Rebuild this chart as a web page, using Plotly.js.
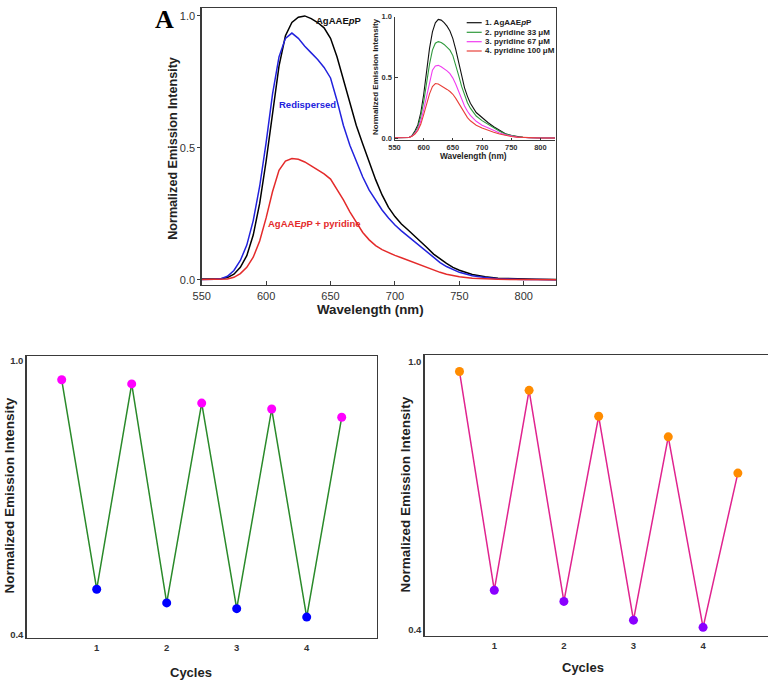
<!DOCTYPE html>
<html>
<head>
<meta charset="utf-8">
<script src="https://cdn.plot.ly/plotly-3.0.1.min.js"></script>
<style>html,body{margin:0;padding:0;overflow:hidden;background:#fff}#chart{width:768px;height:686px}</style>
</head>
<body>
<div id="chart"></div>
<script>
// ---------- Data ----------
const wavelengthMain = [550,555,560,565,570,575,580,585,590,595,600,605,610,615,620,625,630,635,640,645,650,655,660,665,670,675,680,685,690,695,700,705,710,715,720,725,730,735,740,745,750,760,770,780,790,800,810,825];
const mainAgAAEpP = [0.004,0.004,0.004,0.005,0.009,0.022,0.048,0.092,0.17,0.29,0.45,0.64,0.81,0.925,0.975,0.995,1.0,0.99,0.975,0.955,0.915,0.845,0.76,0.665,0.585,0.515,0.445,0.38,0.322,0.275,0.24,0.212,0.19,0.168,0.147,0.122,0.098,0.08,0.063,0.048,0.037,0.021,0.012,0.007,0.005,0.004,0.003,0.002];
const mainRedispersed = [0.002,0.002,0.003,0.005,0.014,0.036,0.074,0.132,0.225,0.355,0.52,0.705,0.845,0.915,0.935,0.915,0.885,0.86,0.835,0.805,0.765,0.68,0.585,0.51,0.45,0.39,0.34,0.30,0.265,0.235,0.208,0.186,0.166,0.146,0.126,0.104,0.083,0.066,0.051,0.039,0.029,0.016,0.009,0.005,0.003,0.002,0.002,0.001];
const mainPyridine = [0.002,0.002,0.002,0.002,0.004,0.01,0.024,0.048,0.086,0.148,0.235,0.335,0.415,0.45,0.46,0.457,0.447,0.432,0.416,0.402,0.382,0.345,0.303,0.258,0.218,0.18,0.152,0.13,0.115,0.103,0.093,0.084,0.075,0.066,0.057,0.047,0.037,0.029,0.022,0.016,0.012,0.007,0.004,0.003,0.002,0.002,0.001,0.001];

const wavelengthInset = [550,560,570,575,580,585,590,595,600,605,610,615,620,625,630,635,640,645,650,655,660,665,670,675,680,690,700,710,720,730,740,750,760,770,780,800,825];
const insetAgAAEpP = [0.004,0.004,0.005,0.006,0.022,0.06,0.11,0.21,0.36,0.56,0.74,0.875,0.95,0.978,0.972,0.952,0.922,0.882,0.82,0.73,0.625,0.515,0.415,0.345,0.288,0.212,0.168,0.13,0.095,0.063,0.038,0.023,0.014,0.008,0.005,0.003,0.002];
const insetPyr33 = [0.004,0.004,0.005,0.007,0.02,0.05,0.09,0.18,0.30,0.46,0.61,0.725,0.782,0.795,0.787,0.772,0.752,0.725,0.68,0.605,0.515,0.427,0.35,0.293,0.248,0.183,0.145,0.114,0.084,0.058,0.035,0.022,0.013,0.008,0.005,0.003,0.002];
const insetPyr67 = [0.004,0.004,0.005,0.007,0.018,0.04,0.074,0.14,0.235,0.35,0.47,0.56,0.595,0.60,0.588,0.572,0.555,0.532,0.495,0.445,0.385,0.325,0.265,0.222,0.188,0.14,0.108,0.086,0.064,0.044,0.028,0.017,0.01,0.006,0.004,0.003,0.002];
const insetPyr100 = [0.004,0.004,0.005,0.007,0.016,0.035,0.064,0.115,0.195,0.28,0.365,0.425,0.45,0.446,0.433,0.417,0.402,0.385,0.362,0.328,0.287,0.244,0.203,0.17,0.144,0.107,0.085,0.066,0.05,0.036,0.023,0.015,0.01,0.007,0.005,0.003,0.003];
const insetLabels = ['1. AgAAE<i>p</i>P','2. pyridine 33 \u03bcM','3. pyridine 67 \u03bcM','4. pyridine 100 \u03bcM'];

const cyclePos = [0.5,1,1.5,2,2.5,3,3.5,4,4.5];
const cyclesLeft = [0.958,0.50,0.949,0.47,0.907,0.4575,0.894,0.439,0.876];
const cyclesRight = [0.978,0.489,0.936,0.464,0.878,0.422,0.832,0.406,0.751];
const cycleTicks = [1,2,3,4];

const mainTicksX = [550,600,650,700,750,800];
const mainTicksY = [0,0.5,1.0];
const mainTickTextY = ['0.0','0.5','1.0'];
const cycleTicksY = [0.4,1.0];
const cycleTickTextY = ['0.4','1.0'];

// ---------- Layout helpers ----------
const W = 768, H = 686;
const fx = p => p / W;
const fy = p => 1 - p / H;
const SANS = 'Liberation Sans, Arial, Helvetica, sans-serif';

function ann(text, x, y, size, color, extra) {
  return Object.assign({
    text: text, xref: 'paper', yref: 'paper', x: fx(x), y: fy(y),
    showarrow: false, xanchor: 'center', yanchor: 'middle',
    font: {family: SANS, size: size, color: color, weight: 700}
  }, extra || {});
}

const insetColors = ['#111111','#2f9a3c','#f03cf0','#e8403a'];
const legendRows = [22.7,32.3,41.7,51];

const traces = [
  {x: wavelengthMain, y: mainAgAAEpP, xaxis:'x', yaxis:'y', mode:'lines', line:{color:'#000000', width:1.5}},
  {x: wavelengthMain, y: mainRedispersed, xaxis:'x', yaxis:'y', mode:'lines', line:{color:'#2222dd', width:1.5}},
  {x: wavelengthMain, y: mainPyridine, xaxis:'x', yaxis:'y', mode:'lines', line:{color:'#e42b2b', width:1.5}},
  {x: wavelengthInset, y: insetAgAAEpP, xaxis:'x2', yaxis:'y2', mode:'lines', line:{color:insetColors[0], width:1.1}},
  {x: wavelengthInset, y: insetPyr33, xaxis:'x2', yaxis:'y2', mode:'lines', line:{color:insetColors[1], width:1.1}},
  {x: wavelengthInset, y: insetPyr67, xaxis:'x2', yaxis:'y2', mode:'lines', line:{color:insetColors[2], width:1.1}},
  {x: wavelengthInset, y: insetPyr100, xaxis:'x2', yaxis:'y2', mode:'lines', line:{color:insetColors[3], width:1.1}},
  {x: cyclePos, y: cyclesLeft, xaxis:'x3', yaxis:'y3', mode:'lines+markers',
   line:{color:'#2a8a2a', width:1.5},
   marker:{size:9, color: cyclePos.map((v,i)=> i%2===0 ? '#ff00ff' : '#0000ff')}},
  {x: cyclePos, y: cyclesRight, xaxis:'x4', yaxis:'y4', mode:'lines+markers',
   line:{color:'#e0248f', width:1.5},
   marker:{size:9, color: cyclePos.map((v,i)=> i%2===0 ? '#ff8c00' : '#8a00ff')}}
];

const frame = {showline:true, linecolor:'#3a3a3a', linewidth:1.4, showgrid:false, zeroline:false, fixedrange:true};

const layout = {
  width: W, height: H, margin:{l:0,r:0,t:0,b:0}, paper_bgcolor:'#fff', plot_bgcolor:'rgba(0,0,0,0)',
  showlegend:false,
  xaxis: Object.assign({}, frame, {domain:[fx(201.7), fx(556)], range:[550,825], anchor:'y', mirror:true,
    tickvals: mainTicksX, ticks:'inside', ticklen:4, tickcolor:'#3a3a3a',
    tickfont:{family:SANS, size:11, color:'#333'}}),
  yaxis: Object.assign({}, frame, {domain:[fy(285), fy(8)], range:[-0.019,1.030], anchor:'x', mirror:true,
    tickvals: mainTicksY, ticktext: mainTickTextY, ticks:'outside', ticklen:3, tickcolor:'#3a3a3a',
    tickfont:{family:SANS, size:11, color:'#333'}}),
  xaxis2: Object.assign({}, frame, {domain:[fx(394.5), fx(555)], range:[550,825], anchor:'y2', linewidth:1,
    tickvals: mainTicksX, ticks:'inside', ticklen:2, tickcolor:'#3a3a3a',
    tickfont:{family:SANS, size:7.5, color:'#333', weight:700}}),
  yaxis2: Object.assign({}, frame, {domain:[fy(140), fy(16.7)], range:[-0.014,1.0], anchor:'x2', linewidth:1,
    tickvals: mainTicksY, ticktext: mainTickTextY, ticks:'inside', ticklen:3, tickcolor:'#3a3a3a',
    tickfont:{family:SANS, size:7.5, color:'#333', weight:700}}),
  xaxis3: Object.assign({}, frame, {domain:[fx(26.7), fx(376.7)], range:[0,5], anchor:'y3', mirror:true,
    tickvals: cycleTicks, ticks:'', tickfont:{family:SANS, size:9.5, color:'#333', weight:700}}),
  yaxis3: Object.assign({}, frame, {domain:[fy(637.7), fy(356)], range:[0.394,1.010], anchor:'x3', mirror:true,
    tickvals: cycleTicksY, ticktext: cycleTickTextY, ticks:'', tickfont:{family:SANS, size:9.5, color:'#333', weight:700}}),
  xaxis4: Object.assign({}, frame, {domain:[fx(424.7), 1], range:[0,4.933], anchor:'y4', mirror:true,
    tickvals: cycleTicks, ticks:'', tickfont:{family:SANS, size:9.5, color:'#333', weight:700}}),
  yaxis4: Object.assign({}, frame, {domain:[fy(635.7), fy(355)], range:[0.3873,1.015], anchor:'x4', mirror:false,
    tickvals: cycleTicksY, ticktext: cycleTickTextY, ticks:'', tickfont:{family:SANS, size:9.5, color:'#333', weight:700}}),
  annotations: [
    ann('A', 164, 20, 26, '#000', {font:{family:'Liberation Serif, Times New Roman, serif', size:26, color:'#000', weight:700}}),
    ann('AgAAE<i>p</i>P', 338.5, 20.7, 9.5, '#111'),
    ann('Redispersed', 307.5, 104, 9.5, '#2222dd'),
    ann('AgAAE<i>p</i>P + pyridine', 314, 223, 9.5, '#e42b2b'),
    ann('Normalized Emission Intensity', 173.3, 148.5, 12.6, '#222', {textangle:-90}),
    ann('Wavelength (nm)', 370, 309, 13.3, '#222'),
    ann('Normalized Emission Intensity', 375, 77, 8, '#222', {textangle:-90}),
    ann('Wavelength (nm)', 473, 155.7, 8.3, '#222'),
    ann('Normalized Emission Intensity', 8.5, 496, 13.5, '#222', {textangle:-90}),
    ann('Cycles', 191, 672, 13, '#222'),
    ann('Normalized Emission Intensity', 405, 494.5, 13.5, '#222', {textangle:-90}),
    ann('Cycles', 583, 667.3, 13, '#222')
  ].concat(insetLabels.map((t,i)=> ann(t, 483.3, legendRows[i], 8, '#222', {xanchor:'left'}))),
  shapes: insetColors.map((c,i)=>({type:'line', xref:'paper', yref:'paper',
    x0: fx(466.7), x1: fx(481.7), y0: fy(legendRows[i]), y1: fy(legendRows[i]),
    line:{color:c, width:1.2}}))
};

Plotly.newPlot('chart', traces, layout, {displayModeBar:false, staticPlot:true});
</script>
</body>
</html>
